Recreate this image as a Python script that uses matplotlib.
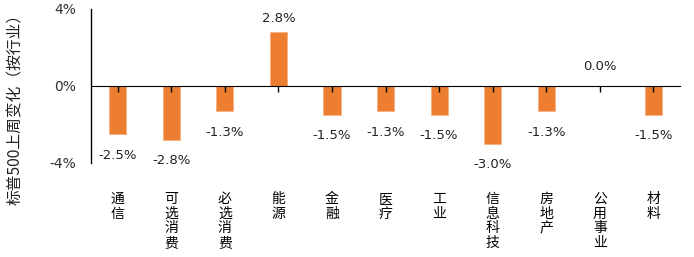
import matplotlib
matplotlib.use("Agg")
import matplotlib.pyplot as plt
import numpy as np

plt.rcParams['font.family'] = ['Noto Sans CJK SC', 'DejaVu Sans']

categories = ["通信", "可选消费", "必选消费", "能源", "金融", "医疗", "工业", "信息科技", "房地产", "公用事业", "材料"]
values = [-2.5, -2.8, -1.3, 2.8, -1.5, -1.3, -1.5, -3.0, -1.3, 0.0, -1.5]
yticks = [-4, 0, 4]
ytick_labels = ["-4%", "0%", "4%"]
ylabel = "标普500上周变化（按行业）"

fig = plt.figure(figsize=(6.94, 2.57), dpi=100)
ax = fig.add_axes([0.1311, 0.3658, 0.8489, 0.5992])

x = np.arange(len(categories))
lws = [0.6 if v != 0 else 0 for v in values]
ax.bar(x, values, width=0.32, color="#ED7D31", edgecolor="#F4B183", linewidth=lws, zorder=3)

ax.set_xlim(-0.5, len(categories) - 0.5)
ax.set_ylim(-4, 4)
ax.set_yticks(yticks)
ax.set_yticklabels(ytick_labels, fontsize=10, color="#333333", family=['DejaVu Sans'])
ax.tick_params(axis='y', length=0, pad=11)

ax.set_xticks(x)
ax.set_xticklabels(["\n".join(c) for c in categories], fontsize=10, linespacing=1.05)
ax.tick_params(axis='x', length=0, pad=21)

for s in ["top", "right", "bottom"]:
    ax.spines[s].set_visible(False)
ax.spines["left"].set_linewidth(1.0)

sec = ax.secondary_xaxis(0.5)
sec.set_xticks(x)
sec.set_xticklabels([])
sec.tick_params(axis='x', direction='in', length=4, width=1.0)
sec.spines['bottom'].set_linewidth(1.0)
sec.set_zorder(5)

for xi, v in zip(x, values):
    if v > 0:
        ax.annotate(f"{v:.1f}%", (xi, v), xytext=(0, 5), textcoords="offset points",
                    ha="center", va="bottom", fontsize=9.5, color="#222222", family=['DejaVu Sans'])
    elif v == 0:
        ax.annotate(f"{v:.1f}%", (xi, v), xytext=(0, 9), textcoords="offset points",
                    ha="center", va="bottom", fontsize=9.5, color="#222222", family=['DejaVu Sans'])
    else:
        ax.annotate(f"{v:.1f}%", (xi, v), xytext=(0, -10.5), textcoords="offset points",
                    ha="center", va="top", fontsize=9.5, color="#222222", family=['DejaVu Sans'])

fig.text(0.022, 0.59, ylabel, rotation=90, ha="center", va="center", fontsize=11.3, color="#222222")

fig.savefig("out.png", dpi=100)
